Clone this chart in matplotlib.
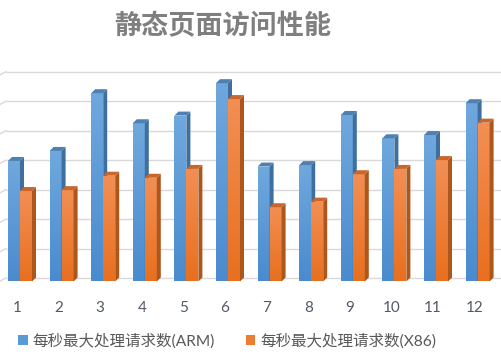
import numpy as np
import matplotlib
matplotlib.use("Agg")
import matplotlib.pyplot as plt
from matplotlib.colors import LinearSegmentedColormap
from matplotlib.patches import Polygon, Patch
from matplotlib.transforms import ScaledTranslation

plt.rcParams['font.family'] = ['Lato', 'Noto Sans CJK SC', 'DejaVu Sans']

# ---- data ----
categories = ['1', '2', '3', '4', '5', '6', '7', '8', '9', '10', '11', '12']
arm_values = [4.09, 4.43, 6.39, 5.37, 5.63, 6.73, 3.90, 3.95, 5.65, 4.86, 4.97, 6.05]
x86_values = [3.07, 3.10, 3.59, 3.52, 3.82, 6.19, 2.52, 2.71, 3.64, 3.82, 4.12, 5.39]
series_names = ['每秒最大处理请求数(ARM)', '每秒最大处理请求数(X86)']
title = '静态页面访问性能'

# ---- style ----
W, H, DPI = 501, 352, 100
fig = plt.figure(figsize=(W / DPI, H / DPI), dpi=DPI)
fig.patch.set_facecolor('white')

px_per_cat = 41.6
px_per_unit = 29.47
bottom_px = 281.5
x_first_px = 20.0
ymax = 7.3
xlo = 1 - x_first_px / px_per_cat
xhi = 1 + (W - x_first_px) / px_per_cat

ax = fig.add_axes([0, 1 - bottom_px / H, 1, ymax * px_per_unit / H])
ax.set_xlim(xlo, xhi)
ax.set_ylim(0, ymax)
for s in ax.spines.values():
    s.set_visible(False)
ax.set_yticks([])

# gridlines on back wall (shifted up by depth)
wall_dy = 3.5 / px_per_unit
ytr = ax.get_yaxis_transform()
for k in range(0, 8):
    ax.plot([6 / W, 1], [k + wall_dy, k + wall_dy], color='#d9d9d9', lw=1.0,
            transform=ytr, zorder=0, solid_capstyle='butt')
    ax.plot([0, 6 / W], [k + 0.3 / px_per_unit, k + wall_dy], color='#d9d9d9',
            lw=1.0, transform=ytr, zorder=0)

bw = 12.0 / px_per_cat
dx = 4.0 / px_per_cat
dy = 4.0 / px_per_unit

styles = [
    dict(top='#6fa8dd', bot='#4a8bcf', side='#3e6f9f', cap='#4f80b2'),
    dict(top='#f28f55', bot='#e8701f', side='#ad571c', cap='#c8662b'),
]

grad = np.linspace(0, 1, 64).reshape(-1, 1)
x = np.arange(1, len(categories) + 1)

z = 2
for i in range(len(categories)):
    for sidx, vals in enumerate([arm_values, x86_values]):
        st = styles[sidx]
        x0 = x[i] - bw + sidx * bw
        x1 = x0 + bw
        v = vals[i]
        bar = ax.bar(x0, v, width=bw, align='edge', color='none',
                     edgecolor='none', zorder=z)[0]
        cmap = LinearSegmentedColormap.from_list('g', [st['top'], st['bot']])
        im = ax.imshow(grad, extent=[x0, x1, 0, v], aspect='auto', cmap=cmap,
                       origin='upper', zorder=z, interpolation='bilinear')
        im.set_clip_path(bar)
        side = Polygon([(x1, 0), (x1 + dx, dy), (x1 + dx, v + dy), (x1, v)],
                       closed=True, facecolor=st['side'], edgecolor='none',
                       zorder=z)
        cap = Polygon([(x0, v), (x0 + dx, v + dy), (x1 + dx, v + dy), (x1, v)],
                      closed=True, facecolor=st['cap'], edgecolor='none',
                      zorder=z)
        ax.add_patch(side)
        ax.add_patch(cap)
        z += 1

ax.set_xlim(xlo, xhi)
ax.set_ylim(0, ymax)
ax.set_xticks(x)
ax.set_xticklabels(categories)
ax.tick_params(axis='x', length=0, pad=14, labelsize=11, labelcolor='#505a68')
for lab in ax.get_xticklabels():
    lab.set_transform(lab.get_transform()
                      + ScaledTranslation(-3 / DPI, 0, fig.dpi_scale_trans))

fig.text(223 / W, 1 - 25 / H, title, ha='center', va='center',
         fontsize=19.5, fontweight='bold', color='#7f7f7f')

handles = [Patch(facecolor='#5b9bd5', edgecolor='none'),
           Patch(facecolor='#ed7d31', edgecolor='none')]
fig.legend(handles, series_names, loc='center left',
           bbox_to_anchor=(18 / W, 1 - 341 / H), ncol=2, frameon=False,
           fontsize=11.2, labelcolor='#595959', handlelength=0.62,
           handleheight=0.62, handletextpad=0.3, columnspacing=2.0,
           borderaxespad=0, borderpad=0)

fig.savefig('out.png', dpi=DPI, facecolor='white')
